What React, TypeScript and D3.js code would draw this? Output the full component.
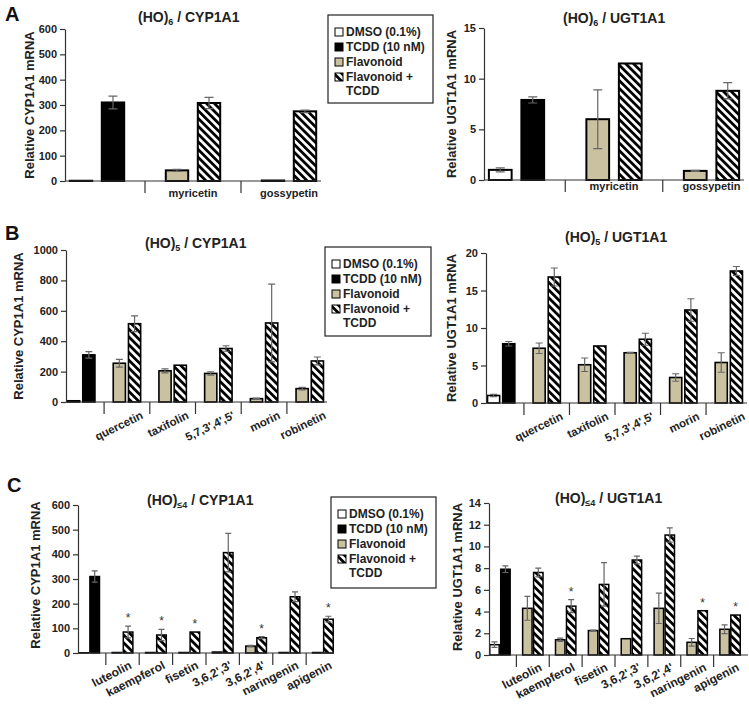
import React, { useEffect, useRef } from "react";
import * as d3 from "d3";

const FONT = "'Liberation Sans', Arial, Helvetica, sans-serif";
const TAN = "#c9c1a0";
const ERR = "#666";

const legendLabels = ["DMSO (0.1%)", "TCDD (10 nM)", "Flavonoid", "Flavonoid +", "TCDD"];

// ---- panel A : (HO)6
const flavA = ["myricetin", "gossypetin"];
const cypA_ctrl = [1, 310];
const cypA_ctrlErr = [0, 25];
const cypA_flav = [42, 2];
const cypA_flavErr = [4, 0];
const cypA_comb = [308, 275];
const cypA_combErr = [22, 5];
const cypA_ticks = [0, 100, 200, 300, 400, 500, 600];

const ugtA_ctrl = [1.0, 7.9];
const ugtA_ctrlErr = [0.2, 0.3];
const ugtA_flav = [6.0, 0.9];
const ugtA_flavErr = [2.9, 0.05];
const ugtA_comb = [11.5, 8.8];
const ugtA_combErr = [0, 0.8];
const ugtA_ticks = [0, 5, 10, 15];

// ---- panel B : (HO)5
const flavB = ["quercetin", "taxifolin", "5,7,3',4',5'", "morin", "robinetin"];
const cypB_ctrl = [8, 310];
const cypB_ctrlErr = [0, 22];
const cypB_flav = [255, 205, 188, 22, 88];
const cypB_flavErr = [25, 13, 11, 3, 8];
const cypB_comb = [515, 242, 352, 520, 270];
const cypB_combErr = [52, 0, 18, 256, 26];
const cypB_ticks = [0, 200, 400, 600, 800, 1000];

const ugtB_ctrl = [1.0, 7.9];
const ugtB_ctrlErr = [0.15, 0.3];
const ugtB_flav = [7.3, 5.1, 6.7, 3.4, 5.4];
const ugtB_flavErr = [0.7, 0.9, 0.05, 0.5, 1.3];
const ugtB_comb = [16.8, 7.6, 8.5, 12.4, 17.6];
const ugtB_combErr = [1.2, 0, 0.8, 1.5, 0.6];
const ugtB_ticks = [0, 5, 10, 15, 20];

// ---- panel C : (HO)<=4
const flavC = ["luteolin", "kaempferol", "fisetin", "3,6,2',3'", "3,6,2',4'", "naringenin", "apigenin"];
const cypC_ctrl = [1, 310];
const cypC_ctrlErr = [0, 23];
const cypC_flav = [2, 2, 2, 4, 28, 2, 2];
const cypC_flavErr = [0, 0, 0, 0, 3, 0, 0];
const cypC_comb = [85, 73, 85, 407, 62, 228, 137];
const cypC_combErr = [24, 23, 0, 78, 4, 20, 12];
const cypC_sig = [1, 1, 1, 0, 1, 0, 1];
const cypC_ticks = [0, 100, 200, 300, 400, 500, 600];

const ugtC_ctrl = [0.95, 7.9];
const ugtC_ctrlErr = [0.25, 0.3];
const ugtC_flav = [4.3, 1.4, 2.25, 1.5, 4.3, 1.17, 2.37];
const ugtC_flavErr = [1.1, 0.15, 0.05, 0, 1.4, 0.35, 0.4];
const ugtC_comb = [7.6, 4.5, 6.5, 8.75, 11.05, 4.08, 3.68];
const ugtC_combErr = [0.4, 0.6, 2.0, 0.35, 0.65, 0, 0];
const ugtC_sig = [0, 1, 0, 0, 0, 1, 1];
const ugtC_ticks = [0, 2, 4, 6, 8, 10, 12, 14];

const panels = [
  { title: ["(HO)", "6", " / CYP1A1"], titleX: 138, titleY: 22, yLabel: "Relative CYP1A1 mRNA", yLabelX: 29, yLabelY: 105,
    x0: 65, x1: 321, axisEnd: 321, yTop: 29, yBot: 181, ticks: cypA_ticks, pad: 0.3, capW: 9, sw: 2,
    groups: flavA, ctrl: cypA_ctrl, ctrlErr: cypA_ctrlErr, flav: cypA_flav, flavErr: cypA_flavErr, comb: cypA_comb, combErr: cypA_combErr,
    rot: 0, ldx: 0, ldy: 16, lsize: 11 },
  { title: ["(HO)", "6", " / UGT1A1"], titleX: 563, titleY: 23, yLabel: "Relative UGT1A1 mRNA", yLabelX: 451, yLabelY: 104,
    x0: 484, x1: 744, axisEnd: 744, yTop: 28, yBot: 180, ticks: ugtA_ticks, pad: 0.3, capW: 9, sw: 2,
    groups: flavA, ctrl: ugtA_ctrl, ctrlErr: ugtA_ctrlErr, flav: ugtA_flav, flavErr: ugtA_flavErr, comb: ugtA_comb, combErr: ugtA_combErr,
    rot: 0, ldx: 0, ldy: 10, lsize: 11 },
  { title: ["(HO)", "5", " / CYP1A1"], titleX: 145, titleY: 248, yLabel: "Relative CYP1A1 mRNA", yLabelX: 18, yLabelY: 326,
    x0: 66, x1: 325, axisEnd: 327, yTop: 250, yBot: 402, ticks: cypB_ticks, pad: 0.2, capW: 7, sw: 1.6,
    groups: flavB, ctrl: cypB_ctrl, ctrlErr: cypB_ctrlErr, flav: cypB_flav, flavErr: cypB_flavErr, comb: cypB_comb, combErr: cypB_combErr,
    rot: -26, ldx: 17, ldy: 16, lsize: 11.5 },
  { title: ["(HO)", "5", " / UGT1A1"], titleX: 565, titleY: 242, yLabel: "Relative UGT1A1 mRNA", yLabelX: 451, yLabelY: 328,
    x0: 486, x1: 744, axisEnd: 747, yTop: 253, yBot: 403, ticks: ugtB_ticks, pad: 0.2, capW: 7, sw: 1.6,
    groups: flavB, ctrl: ugtB_ctrl, ctrlErr: ugtB_ctrlErr, flav: ugtB_flav, flavErr: ugtB_flavErr, comb: ugtB_comb, combErr: ugtB_combErr,
    rot: -26, ldx: 17, ldy: 16, lsize: 11.5 },
  { title: ["(HO)", "\u22644", " / CYP1A1"], titleX: 147, titleY: 505, yLabel: "Relative CYP1A1 mRNA", yLabelX: 35, yLabelY: 575,
    x0: 78, x1: 334, axisEnd: 334, yTop: 505, yBot: 653, ticks: cypC_ticks, pad: 0.14, capW: 6, sw: 1.5,
    groups: flavC, ctrl: cypC_ctrl, ctrlErr: cypC_ctrlErr, flav: cypC_flav, flavErr: cypC_flavErr, comb: cypC_comb, combErr: cypC_combErr, sig: cypC_sig,
    rot: -27, ldx: 10, ldy: 15, lsize: 12 },
  { title: ["(HO)", "\u22644", " / UGT1A1"], titleX: 555, titleY: 503, yLabel: "Relative UGT1A1 mRNA", yLabelX: 457, yLabelY: 577,
    x0: 489, x1: 741, axisEnd: 748, yTop: 503, yBot: 655, ticks: ugtC_ticks, pad: 0.14, capW: 6, sw: 1.5,
    groups: flavC, ctrl: ugtC_ctrl, ctrlErr: ugtC_ctrlErr, flav: ugtC_flav, flavErr: ugtC_flavErr, comb: ugtC_comb, combErr: ugtC_combErr, sig: ugtC_sig,
    rot: -27, ldx: 10, ldy: 15, lsize: 12 },
];

const legends = [
  { x: 328, y: 15, w: 105, h: 88 },
  { x: 325, y: 247, w: 106, h: 89 },
  { x: 331, y: 497, w: 105, h: 91 },
];

const letters = [
  { t: "A", x: 5, y: 21 },
  { t: "B", x: 5, y: 240 },
  { t: "C", x: 7, y: 492 },
];

function drawPanel(root: any, p: any) {
  const g = root.append("g");
  const keys: string[] = ["ctrl0", "ctrl1"];
  p.groups.forEach((_: string, i: number) => keys.push(`gap${i}`, `flav${i}`, `comb${i}`));

  const x = d3.scaleBand<string>().domain(keys).range([p.x0, p.x1]).paddingInner(p.pad).paddingOuter(p.pad / 2);
  const y = d3.scaleLinear().domain([0, d3.max(p.ticks as number[])!]).range([p.yBot, p.yTop]);
  const bw = x.bandwidth();

  const bars = [
    { key: "ctrl0", v: p.ctrl[0], e: p.ctrlErr[0], fill: "#fff", sig: 0 },
    { key: "ctrl1", v: p.ctrl[1], e: p.ctrlErr[1], fill: "#000", sig: 0 },
    ...p.groups.flatMap((_: string, i: number) => [
      { key: `flav${i}`, v: p.flav[i], e: p.flavErr[i], fill: TAN, sig: 0 },
      { key: `comb${i}`, v: p.comb[i], e: p.combErr[i], fill: "url(#hatch)", sig: p.sig ? p.sig[i] : 0 },
    ]),
  ];

  g.selectAll("rect.bar").data(bars).join("rect")
    .attr("class", "bar")
    .attr("x", (d: any) => x(d.key)!)
    .attr("width", bw)
    .attr("y", (d: any) => y(d.v))
    .attr("height", (d: any) => p.yBot - y(d.v))
    .attr("fill", (d: any) => d.fill)
    .attr("stroke", "#000")
    .attr("stroke-width", p.sw);

  g.selectAll("path.err").data(bars.filter((d: any) => d.e > 0)).join("path")
    .attr("class", "err")
    .attr("fill", "none")
    .attr("stroke", ERR)
    .attr("stroke-width", 1.2)
    .attr("d", (d: any) => {
      const cx = x(d.key)! + bw / 2;
      const t = y(d.v + d.e), b = y(Math.max(0, d.v - d.e)), c = p.capW / 2;
      return `M${cx},${t}V${b}M${cx - c},${t}H${cx + c}M${cx - c},${b}H${cx + c}`;
    });

  g.selectAll("text.sig").data(bars.filter((d: any) => d.sig)).join("text")
    .attr("class", "sig")
    .attr("x", (d: any) => x(d.key)! + bw / 2)
    .attr("y", (d: any) => y(d.v + d.e) - 4)
    .attr("text-anchor", "middle")
    .attr("font-family", FONT)
    .attr("font-size", 12)
    .attr("fill", "#333")
    .text("*");

  // x axis
  g.append("line")
    .attr("x1", p.x0).attr("x2", p.axisEnd)
    .attr("y1", p.yBot).attr("y2", p.yBot)
    .attr("stroke", "#333").attr("stroke-width", 1.2);

  g.selectAll("line.sep").data(p.groups).join("line")
    .attr("class", "sep")
    .attr("x1", (_: any, i: number) => x(`gap${i}`)! + bw / 2)
    .attr("x2", (_: any, i: number) => x(`gap${i}`)! + bw / 2)
    .attr("y1", p.yBot).attr("y2", p.yBot + 12)
    .attr("stroke", "#333").attr("stroke-width", 1.2);

  g.selectAll("text.grp").data(p.groups).join("text")
    .attr("class", "grp")
    .attr("transform", (_: any, i: number) => {
      const cx = (x(`flav${i}`)! + x(`comb${i}`)! + bw) / 2;
      return `translate(${cx + p.ldx},${p.yBot + p.ldy}) rotate(${p.rot})`;
    })
    .attr("text-anchor", p.rot ? "end" : "middle")
    .attr("font-family", FONT)
    .attr("font-weight", "bold")
    .attr("font-size", p.lsize)
    .attr("fill", "#222")
    .text((d: string) => d);

  // y axis
  const ax = g.append("g")
    .attr("transform", `translate(${p.x0},0)`)
    .call(d3.axisLeft(y).tickValues(p.ticks).tickSize(5).tickSizeOuter(0).tickPadding(3).tickFormat(d3.format("d")));
  ax.attr("font-family", FONT).attr("font-size", 11).attr("font-weight", "bold");
  ax.selectAll("path, line").attr("stroke", "#333").attr("stroke-width", 1.2);
  ax.selectAll("text").attr("fill", "#222");

  g.append("text")
    .attr("transform", `translate(${p.yLabelX},${p.yLabelY}) rotate(-90)`)
    .attr("text-anchor", "middle")
    .attr("dominant-baseline", "central")
    .attr("font-family", FONT)
    .attr("font-weight", "bold")
    .attr("font-size", 13)
    .attr("fill", "#222")
    .text(p.yLabel);

  const tt = g.append("text")
    .attr("x", p.titleX).attr("y", p.titleY)
    .attr("font-family", FONT).attr("font-weight", "bold").attr("fill", "#222");
  tt.append("tspan").attr("font-size", 14).text(p.title[0]);
  tt.append("tspan").attr("font-size", 9).attr("dy", 3).text(p.title[1]);
  tt.append("tspan").attr("font-size", 14).attr("dy", -3).text(p.title[2]);
}

function drawLegend(root: any, l: any) {
  const g = root.append("g").attr("transform", `translate(${l.x},${l.y})`);
  g.append("rect").attr("width", l.w).attr("height", l.h)
    .attr("fill", "#fff").attr("stroke", "#222").attr("stroke-width", 1.2);
  const rows = [17, 32, 47, 62, 76];
  const fills = ["#fff", "#000", TAN, "url(#hatch)", null];
  legendLabels.forEach((lab, i) => {
    if (fills[i]) {
      g.append("rect").attr("x", 7).attr("y", rows[i] - 4).attr("width", 8).attr("height", 8)
        .attr("fill", fills[i]).attr("stroke", "#000").attr("stroke-width", 1);
    }
    g.append("text").attr("x", 18).attr("y", rows[i] + 4)
      .attr("font-family", FONT).attr("font-weight", "bold").attr("font-size", 12)
      .attr("fill", "#222").text(lab);
  });
}

export default function App() {
  const svgRef = useRef<SVGSVGElement>(null);

  useEffect(() => {
    const svg = d3.select(svgRef.current);
    svg.selectAll("*").remove();

    const pat = svg.append("defs").append("pattern")
      .attr("id", "hatch")
      .attr("patternUnits", "userSpaceOnUse")
      .attr("width", 5.5).attr("height", 5.5)
      .attr("patternTransform", "rotate(-45)");
    pat.append("rect").attr("width", 5.5).attr("height", 5.5).attr("fill", "#fff");
    pat.append("rect").attr("width", 2.8).attr("height", 5.5).attr("fill", "#000");

    svg.append("rect").attr("width", 749).attr("height", 705).attr("fill", "#fff");

    panels.forEach(p => drawPanel(svg, p));
    legends.forEach(l => drawLegend(svg, l));

    svg.selectAll("text.letter").data(letters).join("text")
      .attr("class", "letter")
      .attr("x", d => d.x).attr("y", d => d.y)
      .attr("font-family", FONT).attr("font-weight", "bold").attr("font-size", 20)
      .attr("fill", "#111")
      .text(d => d.t);
  }, []);

  return (
    <svg ref={svgRef} width={749} height={705}
      style={{ position: "absolute", left: 0, top: 0, display: "block" }} />
  );
}
